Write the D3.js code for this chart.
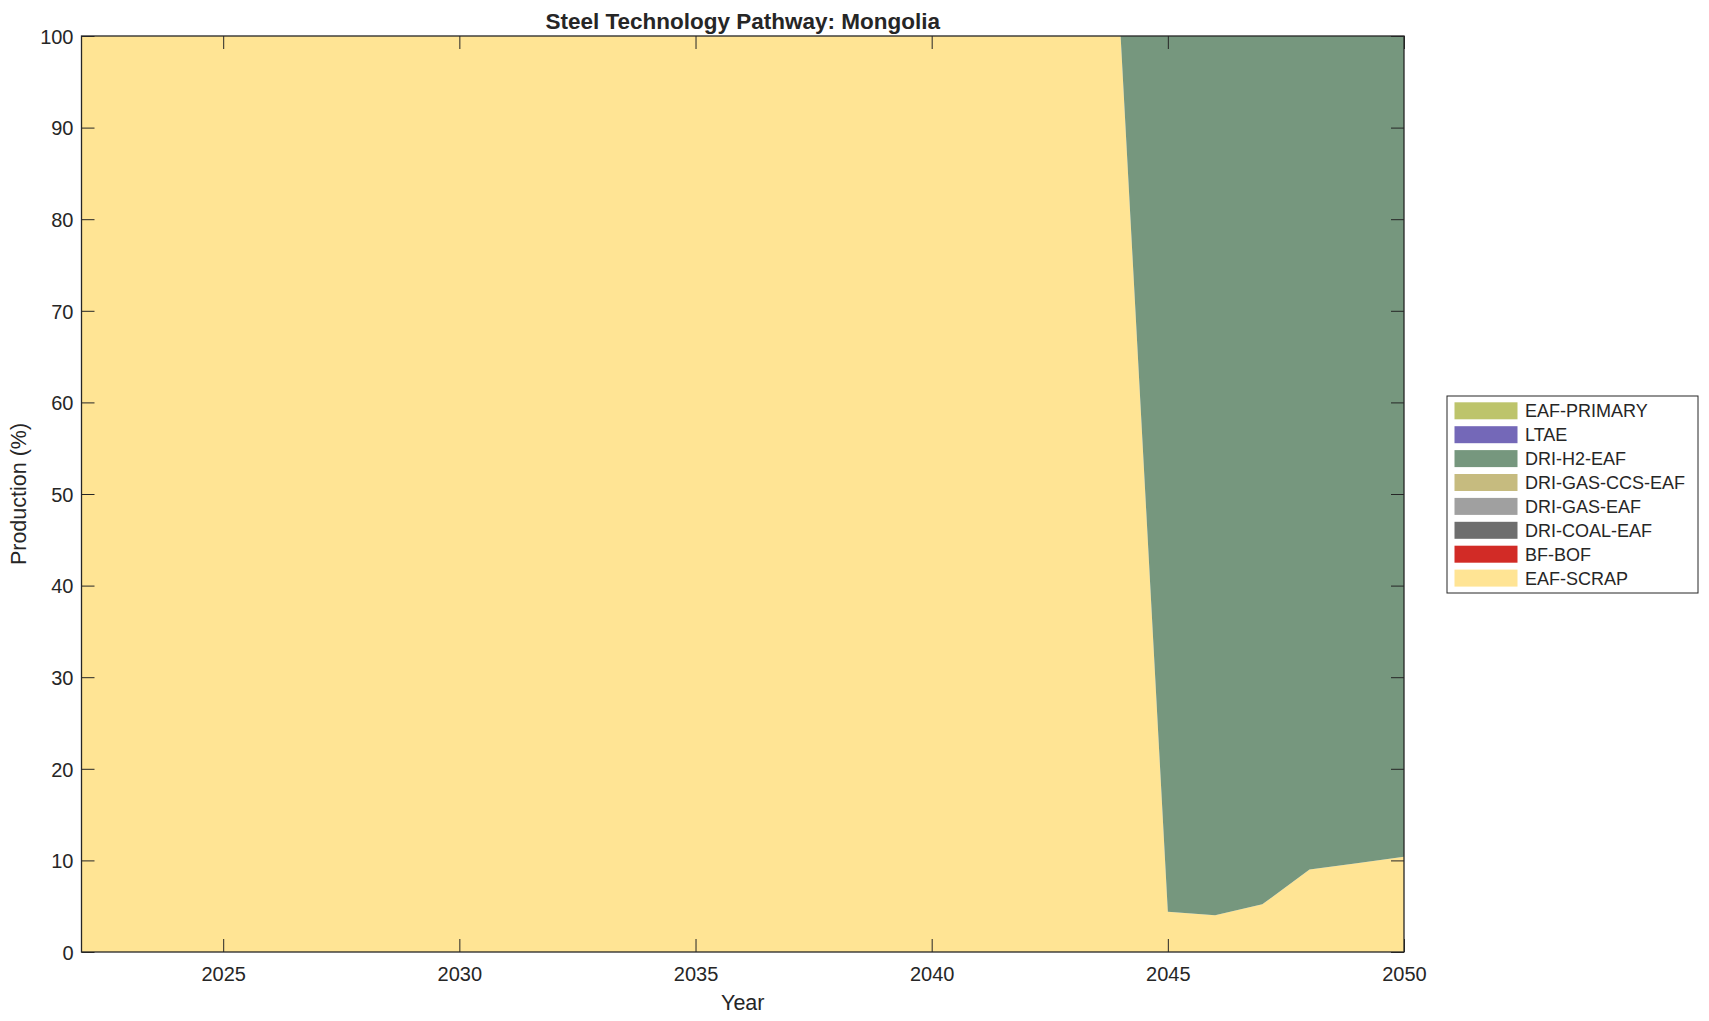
<!DOCTYPE html>
<html>
<head>
<meta charset="utf-8">
<script src="https://cdn.jsdelivr.net/npm/d3@7"></script>
<style>
  html, body { margin: 0; padding: 0; background: #fff; }
  svg { display: block; }
  text { font-family: "Liberation Sans", Arial, Helvetica, sans-serif; fill: #262626; }
</style>
</head>
<body>
<svg id="chart" width="1709" height="1021"></svg>
<script>
// ---- data ----
const years = [2022,2023,2024,2025,2026,2027,2028,2029,2030,2031,2032,2033,2034,2035,2036,2037,2038,2039,2040,2041,2042,2043,2044,2045,2046,2047,2048,2049,2050];
const technologies = ["EAF-SCRAP","BF-BOF","DRI-COAL-EAF","DRI-GAS-EAF","DRI-GAS-CCS-EAF","DRI-H2-EAF","LTAE","EAF-PRIMARY"];
const techColors = ["#ffe494","#d22b26","#6e6e6e","#a0a0a0","#c6bb7f","#76977e","#7468b8","#bdc46b"];
const eafScrap     = [100,100,100,100,100,100,100,100,100,100,100,100,100,100,100,100,100,100,100,100,100,100,100,4.4,4.0,5.2,9.0,9.7,10.4];
const bfBof        = [0,0,0,0,0,0,0,0,0,0,0,0,0,0,0,0,0,0,0,0,0,0,0,0,0,0,0,0,0];
const driCoalEaf   = [0,0,0,0,0,0,0,0,0,0,0,0,0,0,0,0,0,0,0,0,0,0,0,0,0,0,0,0,0];
const driGasEaf    = [0,0,0,0,0,0,0,0,0,0,0,0,0,0,0,0,0,0,0,0,0,0,0,0,0,0,0,0,0];
const driGasCcsEaf = [0,0,0,0,0,0,0,0,0,0,0,0,0,0,0,0,0,0,0,0,0,0,0,0,0,0,0,0,0];
const driH2Eaf     = [0,0,0,0,0,0,0,0,0,0,0,0,0,0,0,0,0,0,0,0,0,0,0,95.6,96.0,94.8,91.0,90.3,89.6];
const ltae         = [0,0,0,0,0,0,0,0,0,0,0,0,0,0,0,0,0,0,0,0,0,0,0,0,0,0,0,0,0];
const eafPrimary   = [0,0,0,0,0,0,0,0,0,0,0,0,0,0,0,0,0,0,0,0,0,0,0,0,0,0,0,0,0];
const xTicks = [2025,2030,2035,2040,2045,2050];
const yTicks = [0,10,20,30,40,50,60,70,80,90,100];
const titleText = "Steel Technology Pathway: Mongolia";
const xLabel = "Year";
const yLabel = "Production (%)";

const seriesValues = [eafScrap, bfBof, driCoalEaf, driGasEaf, driGasCcsEaf, driH2Eaf, ltae, eafPrimary];

// ---- layout ----
const svg = d3.select("#chart");
const L = 81.5, R = 1404, T = 36, B = 952;
const axisColor = "#262626";

const x = d3.scaleLinear().domain([2022, 2050]).range([L, R]);
const y = d3.scaleLinear().domain([0, 100]).range([B, T]);

const table = years.map((yr, i) => {
  const row = { year: yr };
  technologies.forEach((t, k) => row[t] = seriesValues[k][i]);
  return row;
});
const stacked = d3.stack().keys(technologies)(table);

const area = d3.area()
  .x(d => x(d.data.year))
  .y0(d => y(d[0]))
  .y1(d => y(d[1]));

svg.append("g").selectAll("path")
  .data(stacked)
  .join("path")
  .attr("d", area)
  .attr("fill", (d, i) => techColors[i])
  .attr("stroke", "none");

// ---- axes ----
const tickLen = 13;
const xAxisB = d3.axisBottom(x).tickValues(xTicks).tickFormat(d3.format("d")).tickSizeInner(-tickLen).tickSizeOuter(0).tickPadding(15);
const xAxisT = d3.axisTop(x).tickValues(xTicks).tickFormat("").tickSizeInner(-tickLen).tickSizeOuter(0);
const yAxisL = d3.axisLeft(y).tickValues(yTicks).tickSizeInner(-tickLen).tickSizeOuter(0).tickPadding(8);
const yAxisR = d3.axisRight(y).tickValues(yTicks).tickFormat("").tickSizeInner(-tickLen).tickSizeOuter(0);

function style(g) {
  g.select(".domain").remove();
  g.selectAll("line").attr("stroke", axisColor).attr("stroke-width", 1);
  g.selectAll("text").attr("fill", axisColor).style("font-size", "20px").attr("font-family", null);
}
svg.append("g").attr("transform", `translate(0,${B})`).call(xAxisB).call(style);
svg.append("g").attr("transform", `translate(0,${T})`).call(xAxisT).call(style);
svg.append("g").attr("transform", `translate(${L},0)`).call(yAxisL).call(style)
  .selectAll("text").attr("dy", "0.36em");
svg.append("g").attr("transform", `translate(${R},0)`).call(yAxisR).call(style);

svg.append("rect")
  .attr("x", L).attr("y", T).attr("width", R - L).attr("height", B - T)
  .attr("fill", "none").attr("stroke", axisColor).attr("stroke-width", 1.3);

// ---- titles ----
svg.append("text")
  .attr("x", (L + R) / 2).attr("y", 28.5)
  .attr("text-anchor", "middle")
  .style("font-size", "22.5px").style("font-weight", "bold")
  .attr("fill", "#000")
  .text(titleText);

svg.append("text")
  .attr("x", (L + R) / 2).attr("y", 1010)
  .attr("text-anchor", "middle")
  .style("font-size", "21.5px")
  .text(xLabel);

svg.append("text")
  .attr("transform", `translate(26,${(T + B) / 2}) rotate(-90)`)
  .attr("text-anchor", "middle")
  .style("font-size", "21.5px")
  .text(yLabel);

// ---- legend ----
const legendOrder = technologies.map((t, i) => i).reverse();
const lg = svg.append("g");
lg.append("rect")
  .attr("x", 1447).attr("y", 396).attr("width", 251).attr("height", 197)
  .attr("fill", "#fff").attr("stroke", axisColor).attr("stroke-width", 1);
legendOrder.forEach((k, j) => {
  const cy = 410.8 + j * 23.9;
  lg.append("rect")
    .attr("x", 1454.5).attr("y", cy - 8.5).attr("width", 63).attr("height", 17)
    .attr("fill", techColors[k]);
  lg.append("text")
    .attr("x", 1525).attr("y", cy + 6.5)
    .style("font-size", "18px")
    .attr("fill", "#000")
    .text(technologies[k]);
});
</script>
</body>
</html>
